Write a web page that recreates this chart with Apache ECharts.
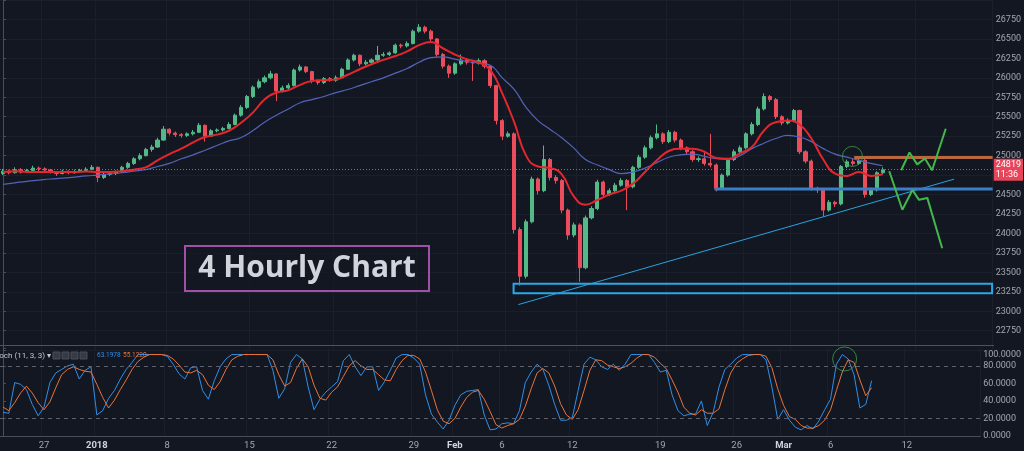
<!DOCTYPE html>
<html>
<head>
<meta charset="utf-8" />
<title>4 Hourly Chart</title>
<script src="https://cdn.jsdelivr.net/npm/echarts@6/dist/echarts.min.js"></script>
<style>
html, body { margin: 0; padding: 0; background: #131722; }
#main { width: 1024px; height: 451px; }
</style>
</head>
<body>
<div id="main"></div>
<script>
// 12h slots: 149 candles + empty room on the right for the projections
var SLOTS = 167;
var categories = Array.from({ length: SLOTS }, function (_, i) { return 'slot' + i; });

// [slot index, label]
var tickLabels = [[7, '27'], [16, '2018'], [28, '8'], [42, '15'], [56, '22'], [70, '29'], [77, 'Feb'],
    [85, '6'], [97, '12'], [112, '19'], [125, '26'], [133, 'Mar'], [141, '6'], [154, '12']];
var boldTicks = ['2018', 'Feb', 'Mar'];

// [open, close, low, high]
var candles = [
    [24770,24800,24750,24830],[24800,24780,24760,24820],[24780,24820,24770,24850],[24820,24790,24770,24840],
    [24790,24810,24780,24830],[24810,24840,24800,24870],[24840,24830,24800,24860],[24830,24815,24790,24850],
    [24815,24790,24770,24830],[24790,24770,24740,24800],[24770,24800,24760,24820],[24800,24780,24760,24810],
    [24780,24795,24770,24820],[24795,24810,24780,24830],[24810,24825,24790,24850],[24825,24850,24810,24880],
    [24850,24720,24660,24860],[24720,24760,24700,24790],[24760,24770,24740,24800],[24770,24790,24750,24810],
    [24790,24850,24780,24870],[24850,24900,24830,24920],[24900,24960,24880,24980],[24960,25000,24940,25030],
    [25000,25080,24990,25100],[25080,25110,25050,25140],[25110,25200,25100,25230],[25200,25340,25190,25380],
    [25340,25290,25260,25350],[25290,25270,25240,25310],[25270,25260,25230,25290],[25260,25280,25240,25300],
    [25280,25300,25260,25330],[25300,25390,25290,25420],[25390,25250,25180,25400],[25250,25320,25240,25340],
    [25320,25330,25300,25350],[25330,25350,25310,25370],[25350,25400,25340,25430],[25400,25520,25390,25540],
    [25520,25620,25500,25650],[25620,25760,25600,25780],[25760,25880,25740,25900],[25880,25950,25860,25980],
    [25950,26000,25930,26030],[26000,26050,25980,26090],[26050,25830,25700,26060],[25830,25870,25810,25900],
    [25870,25900,25850,25930],[25900,26100,25890,26120],[26100,26140,26080,26170],[26140,26080,26060,26150],
    [26080,25960,25930,26090],[25960,25940,25910,25980],[25940,25990,25920,26010],[25990,25970,25950,26010],
    [25970,26000,25950,26030],[26000,26110,25990,26130],[26110,26230,26100,26250],[26230,26290,26210,26310],
    [26290,26180,26150,26300],[26180,26200,26160,26230],[26200,26230,26180,26250],[26230,26290,26210,26410],
    [26290,26300,26270,26330],[26300,26320,26280,26340],[26320,26420,26310,26440],[26420,26410,26380,26440],
    [26410,26440,26390,26470],[26440,26600,26430,26620],[26600,26650,26580,26690],[26650,26600,26570,26670],
    [26600,26500,26470,26620],[26500,26300,26270,26510],[26300,26150,26120,26320],[26150,26060,26000,26170],
    [26060,26180,26040,26200],[26180,26230,26160,26300],[26230,26200,26170,26250],[26200,26190,25960,26220],
    [26190,26220,26170,26250],[26220,26150,26120,26240],[26150,25900,25870,26160],[25900,25450,25400,25910],
    [25450,25250,25200,25470],[25250,25280,25230,25310],[25280,24050,24000,25300],[24050,23450,23330,24080],
    [23450,24150,23420,24180],[24150,24700,24130,24730],[24700,24550,24500,24720],[24550,24950,24530,25130],
    [24950,24720,24680,24970],[24720,24680,24640,24750],[24680,24300,24260,24700],[24300,23980,23920,24320],
    [23980,24110,23950,24140],[24110,23560,23380,24130],[23560,24200,23540,24230],[24200,24320,24180,24350],
    [24320,24660,24300,24690],[24660,24500,24460,24680],[24500,24550,24480,24580],[24550,24620,24530,24650],
    [24620,24680,24600,24710],[24680,24600,24300,24700],[24600,24850,24580,24870],[24850,24980,24830,25010],
    [24980,25100,24960,25130],[25100,25230,25080,25260],[25230,25280,25210,25400],[25280,25180,25150,25300],
    [25180,25300,25160,25330],[25300,25200,25170,25320],[25200,25100,25070,25220],[25100,25050,25020,25120],
    [25050,24950,24920,25070],[24950,24960,24920,24990],[24960,24900,24870,25050],[24900,24880,24850,25280],
    [24880,24580,24540,24900],[24580,24750,24560,24770],[24750,24950,24730,24970],[24950,25050,24930,25080],
    [25050,25100,25020,25130],[25100,25280,25080,25300],[25280,25400,25260,25430],[25400,25600,25380,25630],
    [25600,25760,25580,25800],[25760,25720,25690,25780],[25720,25500,25470,25740],[25500,25420,25390,25520],
    [25420,25450,25400,25480],[25450,25580,25430,25600],[25580,25050,25020,25590],[25050,24930,24900,25070],
    [24930,24580,24550,24950],[24580,24560,24520,24600],[24560,24300,24220,24580],[24300,24400,24280,24430],
    [24400,24380,24340,24420],[24380,24860,24360,24880],[24860,24920,24840,24950],[24920,24900,24870,24960],
    [24900,24940,24880,24960],[24940,24500,24460,24960],[24500,24560,24480,24590],[24560,24780,24540,24800],
    [24780,24819,24760,24850]
];
var lastPrice = 24819;
var lastTime = '11:36';

// moving averages, one value every 2 slots
var MA_STEP = 2;
var maRed = [24790,24800,24790,24790,24790,24790,24790,24795,24790,24790,
    24800,24820,24850,24940,25020,25090,25170,25240,25270,25320,
    25420,25550,25720,25810,25840,25910,25960,25970,25980,26040,
    26110,26175,26230,26280,26340,26420,26460,26380,26300,26240,
    26200,26100,25800,25430,25000,24860,24840,24760,24480,24370,
    24430,24500,24550,24640,24790,24940,25060,25090,25090,25050,
    24970,24960,25030,25110,25320,25430,25450,25400,25220,24950,
    24770,24740,24790,24740,24760];
var maBlue = [24630,24650,24670,24685,24700,24710,24725,24740,24750,24765,
    24780,24800,24820,24860,24900,24960,25010,25070,25130,25190,
    25230,25320,25430,25520,25600,25680,25720,25760,25810,25850,
    25900,25950,26000,26060,26120,26200,26260,26270,26240,26210,
    26190,26160,26000,25850,25620,25450,25340,25230,25100,24950,
    24880,24820,24770,24790,24840,24910,24980,25010,25020,24990,
    24960,24950,25000,25090,25160,25220,25260,25240,25180,25090,
    25020,24980,24940,24900,24870];

// Stoch (11, 3, 3)
var stochK = [27,26,61,59,53,36,23,33,61,72, 76,80,82,65,75,79,24,29,43,52,
    65,76,84,93,93,93,93,93,91,82, 71,65,78,79,52,42,63,79,88,93,
    93,93,93,93,93,93,75,43,54,84, 93,88,56,30,42,50,56,62,86,93,
    79,69,79,79,52,62,75,89,93,93, 89,82,47,25,16,8,18,35,47,51,
    52,53,24,7,8,14,15,14,29,61, 73,82,76,58,36,18,18,21,52,82,
    90,87,79,76,82,75,82,93,93,93, 93,84,73,75,47,29,23,25,25,40,
    12,27,56,76,82,89,93,93,93,93, 87,56,19,30,18,10,7,12,8,17,
    30,42,82,93,88,70,32,36,63.1978];
var stochD = [33,29,38,49,57,49,38,30,39,55, 70,76,79,76,74,73,59,44,32,41,
    53,64,76,85,90,93,93,93,92,88, 81,73,72,75,70,58,53,62,76,87,
    91,93,93,93,93,93,87,70,57,61, 77,88,79,58,43,41,50,56,68,80,
    86,80,76,76,70,64,63,76,86,92, 92,88,73,52,30,17,14,20,33,44,
    50,52,42,28,13,9,12,14,19,34, 54,72,77,72,57,37,24,19,30,52,
    75,87,86,81,79,77,79,83,89,93, 93,90,83,77,64,50,33,26,24,30,
    26,26,31,53,72,83,88,92,93,93, 91,78,54,35,22,19,12,9,9,12,
    18,30,52,73,87,84,64,46,55.122];

// drawings, in [slot, price]
var trendLine = [[86.7, 23086], [160.0, 24698]];
var supportLine = [[119.7, 24571], [166.5, 24571]];
var resistLine = [[143.2, 24977], [166.5, 24977]];
var demandBox = [[85.9, 23353], [166.4, 23232]];
var projUp = [[151.1, 24812], [152.5, 25040], [153.8, 24888], [155.1, 24964], [156.3, 24812], [158.6, 25345]];
var projDown = [[149.1, 24800], [151.3, 24305], [153.0, 24559], [154.1, 24432], [155.5, 24457], [158.0, 23810]];
var circlePrice = [142.9, 24990];
var circleStoch = [143.4, 88];

var tickMap = {};
tickLabels.forEach(function (t) { tickMap[t[0]] = t[1]; });
function isTick(i) { return tickMap[i] !== undefined; }
function stepped(arr) { return arr.map(function (v, j) { return [j * MA_STEP, v]; }); }
function indexed(arr) { return arr.map(function (v, i) { return [i, v]; }); }

var bg = '#131722', gridCol = '#1b1f2b', axisCol = '#4a4e5a', txtCol = '#a3a6af';
var upCol = '#53b987', downCol = '#eb4d5c', green = '#43b84a';

function overlay(data, color, width) {
    return { type: 'line', xAxisIndex: 2, yAxisIndex: 0, data: data, symbol: 'none', silent: true, z: 5,
        lineStyle: { color: color, width: width } };
}
function button(x) {
    return { type: 'rect', z: 10, shape: { x: x, y: 352, width: 7, height: 7 },
        style: { fill: '#363a45', stroke: '#4a4e5a' } };
}

var myChart = echarts.init(document.getElementById('main'));
var option = {
    backgroundColor: bg,
    animation: false,
    grid: [
        { left: 0, right: 30, top: -4.4, height: 354.6 },
        { left: 0, right: 30, top: 348.4, height: 88.2 }
    ],
    xAxis: [
        { type: 'category', gridIndex: 0, data: categories, axisLine: { show: false }, axisTick: { show: false },
          axisLabel: { show: false },
          splitLine: { show: true, interval: isTick, lineStyle: { color: gridCol } } },
        { type: 'category', gridIndex: 1, data: categories,
          axisLine: { show: true, lineStyle: { color: axisCol } }, axisTick: { show: false },
          splitLine: { show: true, interval: isTick, lineStyle: { color: gridCol } },
          axisLabel: { interval: isTick, margin: 5, color: txtCol, fontSize: 9.5, fontFamily: 'Roboto',
              formatter: function (v, i) {
                  var t = tickMap[i] || '';
                  return boldTicks.indexOf(t) >= 0 ? '{b|' + t + '}' : t;
              },
              rich: { b: { fontWeight: 'bold', color: '#d1d4dc', fontSize: 9.5, fontFamily: 'Roboto' } } } },
        { type: 'value', gridIndex: 0, min: -0.5, max: SLOTS - 0.5, show: false },
        { type: 'value', gridIndex: 1, min: -0.5, max: SLOTS - 0.5, show: false }
    ],
    yAxis: [
        { type: 'value', gridIndex: 0, position: 'right', min: 22500, max: 27000, interval: 250,
          axisLine: { show: true, lineStyle: { color: axisCol } },
          axisTick: { show: true, length: 3, lineStyle: { color: axisCol } },
          splitLine: { show: true, lineStyle: { color: gridCol } },
          axisLabel: { margin: 3, color: txtCol, fontSize: 9, fontFamily: 'Roboto',
              formatter: function (v) { return (v === 22500 || v === 27000 || v === 24750) ? '' : String(v); } } },
        { type: 'value', gridIndex: 1, position: 'right', min: 0, max: 100, interval: 20,
          axisLine: { show: true, lineStyle: { color: axisCol } },
          axisTick: { show: true, length: 3, lineStyle: { color: axisCol } },
          splitLine: { show: false },
          axisLabel: { margin: 3, color: txtCol, fontSize: 9, fontFamily: 'Roboto',
              formatter: function (v) { return v === 100 ? '{top|100.0000}' : v.toFixed(4); },
              rich: { top: { padding: [13, 0, 0, 0], color: txtCol, fontSize: 9, fontFamily: 'Roboto' } } } }
    ],
    series: [
        { type: 'candlestick', xAxisIndex: 0, yAxisIndex: 0, data: candles, barWidth: 3.6, z: 2,
          itemStyle: { color: upCol, color0: downCol, borderColor: upCol, borderColor0: downCol, borderWidth: 1 },
          markLine: { symbol: ['none', 'none'], silent: true,
              lineStyle: { color: '#e8445a', type: [1, 2], width: 1 },
              label: { position: 'end', distance: 1, formatter: lastPrice + '\n' + lastTime,
                  backgroundColor: '#e8445a', color: '#fff', fontSize: 9, lineHeight: 10, padding: [1, 2],
                  fontFamily: 'Roboto' },
              data: [{ yAxis: lastPrice }] } },
        { type: 'line', xAxisIndex: 2, yAxisIndex: 0, data: stepped(maBlue), smooth: true, symbol: 'none', z: 3,
          lineStyle: { color: '#5363b8', width: 1.2 } },
        { type: 'line', xAxisIndex: 2, yAxisIndex: 0, data: stepped(maRed), smooth: true, symbol: 'none', z: 4,
          lineStyle: { color: '#e5262e', width: 2 } },
        overlay(trendLine, '#2aa2e0', 1),
        overlay(supportLine, '#3b7ec4', 3),
        overlay(resistLine, '#b8673f', 3),
        overlay(projUp, green, 2),
        overlay(projDown, green, 2),
        { type: 'line', xAxisIndex: 2, yAxisIndex: 0, data: [], silent: true,
          markArea: { silent: true, itemStyle: { color: 'rgba(0,0,0,0)', borderColor: '#2aa7e8', borderWidth: 2 },
              data: [[{ coord: demandBox[0] }, { coord: demandBox[1] }]] } },
        { type: 'scatter', xAxisIndex: 2, yAxisIndex: 0, data: [circlePrice], symbolSize: 20, silent: true, z: 6,
          itemStyle: { color: 'rgba(0,0,0,0)', borderColor: '#3f9c4a', borderWidth: 1 } },
        { type: 'line', xAxisIndex: 3, yAxisIndex: 1, data: indexed(stochK), symbol: 'none', z: 3,
          lineStyle: { color: '#2f8fe8', width: 1 },
          markLine: { symbol: ['none', 'none'], silent: true, label: { show: false },
              lineStyle: { color: '#5d606b', type: [4, 4], width: 1 },
              data: [{ yAxis: 80 }, { yAxis: 20 }] } },
        { type: 'line', xAxisIndex: 3, yAxisIndex: 1, data: indexed(stochD), symbol: 'none', z: 4,
          lineStyle: { color: '#e8743b', width: 1 } },
        { type: 'scatter', xAxisIndex: 3, yAxisIndex: 1, data: [circleStoch], symbolSize: 24, silent: true, z: 6,
          itemStyle: { color: 'rgba(0,0,0,0)', borderColor: '#3f9c4a', borderWidth: 1 } }
    ],
    graphic: [
        { type: 'line', z: 10, shape: { x1: 0, y1: 345.5, x2: 994, y2: 345.5 }, style: { stroke: '#4e525e', lineWidth: 1 } },
        { type: 'text', z: 10, x: -8, y: 355.5,
          style: { text: 'Stoch (11, 3, 3) \u25BE', fill: '#c3c6ce', font: '8px Roboto, "DejaVu Sans"', verticalAlign: 'middle' } },
        button(53), button(62), button(71), button(80),
        { type: 'text', z: 10, x: 97, y: 355.5,
          style: { text: stochK[stochK.length - 1].toFixed(4), fill: '#2f8fe8', font: '6.5px Roboto', verticalAlign: 'middle' } },
        { type: 'text', z: 10, x: 123, y: 355.5,
          style: { text: stochD[stochD.length - 1].toFixed(4), fill: '#e8743b', font: '6.5px Roboto', verticalAlign: 'middle' } },
        { type: 'rect', z: 10, shape: { x: 185, y: 246, width: 244, height: 45 },
          style: { fill: 'rgba(19,23,34,0.6)', stroke: '#a150a8', lineWidth: 2 } },
        { type: 'text', z: 11, x: 307, y: 268.5,
          style: { text: '4 Hourly Chart', fill: '#d1d4dc', font: 'bold 30px "Open Sans"', align: 'center', verticalAlign: 'middle' } }
    ]
};
myChart.setOption(option);
</script>
</body>
</html>
